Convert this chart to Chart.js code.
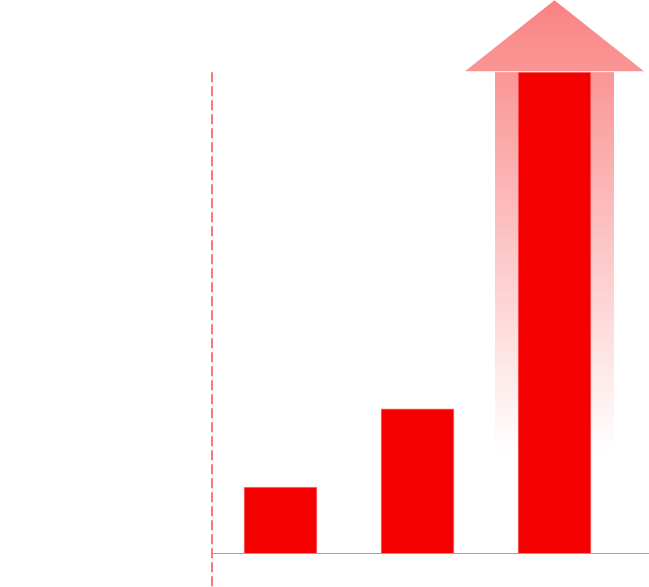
<!DOCTYPE html>
<html>
<head>
<meta charset="utf-8">
<script src="https://cdn.jsdelivr.net/npm/chart.js@4/dist/chart.umd.min.js"></script>
<style>
  html, body { margin: 0; padding: 0; background: #ffffff; }
  #wrap { width: 649px; height: 587px; }
</style>
</head>
<body>
<div id="wrap"><canvas id="chart"></canvas></div>
<script>
const categories = ['A', 'B', 'C'];
const values = [1.37, 3.0, 10.0];
const yMax = 11.5;

const RED = '#f50000';

// dashed axis line, baseline and the growth arrow behind the last bar
const decor = {
    id: 'decor',
    beforeDatasetsDraw(chart) {
        const ctx = chart.ctx;
        const area = chart.chartArea;
        const last = chart.getDatasetMeta(0).data[values.length - 1];
        const top = last.y;
        const fadeEnd = area.bottom - 100;

        const grad = ctx.createLinearGradient(0, 0, 0, fadeEnd);
        grad.addColorStop(0, 'rgba(245, 0, 0, 0.49)');
        grad.addColorStop(1, 'rgba(245, 0, 0, 0)');

        ctx.save();
        ctx.fillStyle = grad;
        // shaft
        ctx.fillRect(last.x - 59.5, top, 119, fadeEnd - top);
        // head
        ctx.beginPath();
        ctx.moveTo(last.x - 89.5, top - 1);
        ctx.lineTo(last.x, top - 72);
        ctx.lineTo(last.x + 89.5, top - 1);
        ctx.closePath();
        ctx.fill();
        ctx.restore();
    },
    afterDatasetsDraw(chart) {
        const ctx = chart.ctx;
        const area = chart.chartArea;
        const last = chart.getDatasetMeta(0).data[values.length - 1];

        ctx.save();
        ctx.strokeStyle = 'rgba(255, 120, 120, 1)';
        ctx.lineWidth = 1;
        ctx.beginPath();
        ctx.moveTo(area.left, area.bottom + 0.5);
        ctx.lineTo(chart.width, area.bottom + 0.5);
        ctx.stroke();

        ctx.lineWidth = 2;
        ctx.setLineDash([10, 4]);
        ctx.beginPath();
        ctx.moveTo(area.left, last.y);
        ctx.lineTo(area.left, chart.height);
        ctx.stroke();
        ctx.restore();
    }
};

new Chart(document.getElementById('chart'), {
    type: 'bar',
    data: {
        labels: categories,
        datasets: [{
            data: values,
            backgroundColor: RED,
            borderColor: 'rgba(255, 120, 120, 1)',
            borderWidth: 1,
            borderSkipped: 'bottom',
            barThickness: 73
        }]
    },
    options: {
        responsive: true,
        maintainAspectRatio: false,
        animation: false,
        layout: { padding: { left: 212, right: 26, top: 0, bottom: 34 } },
        plugins: {
            legend: { display: false },
            tooltip: { enabled: false }
        },
        scales: {
            x: { display: false },
            y: { display: false, min: 0, max: yMax }
        }
    },
    plugins: [decor]
});
</script>
</body>
</html>
